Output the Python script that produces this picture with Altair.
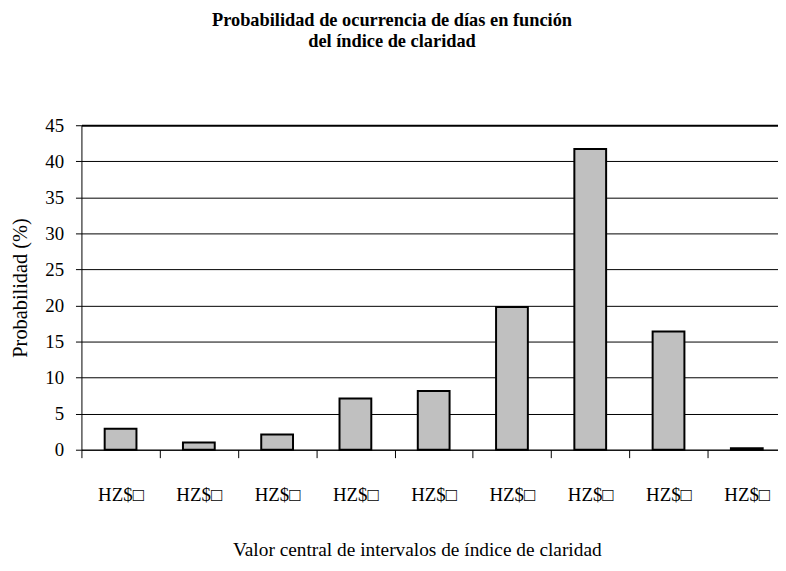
import altair as alt
import pandas as pd

categories = ["c1", "c2", "c3", "c4", "c5", "c6", "c7", "c8", "c9"]
tick_labels = ["HZ$\u25a1"] * 9
probabilidad = [2.9, 1.0, 2.1, 7.1, 8.15, 19.8, 41.7, 16.4, 0.2]
y_max = 45

df = pd.DataFrame({"cat": categories, "prob": probabilidad})

label_expr = "{" + ", ".join(f"'{c}': '{l}'" for c, l in zip(categories, tick_labels)) + "}[datum.value]"

FONT = "Liberation Serif"
PLOT_W = 710
HALF_STEP = PLOT_W / len(categories) / 2

chart = (
    alt.Chart(df)
    .mark_bar(color="#c0c0c0", stroke="#000000", strokeWidth=2)
    .encode(
        x=alt.X(
            "cat:N",
            sort=categories,
            scale=alt.Scale(paddingInner=0.594, paddingOuter=0.297),
            axis=alt.Axis(
                title="Valor central de intervalos de índice de claridad",
                labelExpr=label_expr,
                labelAngle=0,
                ticks=True,
                tickOffset=-HALF_STEP,
                labelOffset=HALF_STEP,
                tickSize=8,
                tickWidth=1,
                labelPadding=28,
                labelFontSize=19,
                titlePadding=37,
                titleFontSize=19.5,
                titleX=338,
                domainColor="#000000",
                tickColor="#000000",
            ),
        ),
        y=alt.Y(
            "prob:Q",
            scale=alt.Scale(domain=[0, y_max], nice=False),
            axis=alt.Axis(
                title="Probabilidad (%)",
                values=list(range(0, 46, 5)),
                tickSize=6,
                labelPadding=12,
                labelFontSize=19,
                titleFontSize=20.5,
                titlePadding=14,
                grid=True,
                gridColor="#000000",
                gridWidth={"condition": {"test": f"datum.value === {y_max}", "value": 2}, "value": 1},
                domainColor="#000000",
                tickColor="#000000",
            ),
        ),
    )
    .properties(
        width=PLOT_W,
        height=327,
        padding={"left": 74, "top": 116, "right": -8, "bottom": 112},
        autosize=alt.AutoSizeParams(type="none"),
        title=alt.TitleParams(
            text=["Probabilidad de ocurrencia de días en función", "del índice de claridad"],
            font=FONT,
            fontSize=18.5,
            fontWeight="bold",
            color="#000000",
            anchor="middle",
            dx=-42,
            offset=66,
            lineHeight=22,
        ),
    )
    .configure_axis(
        labelFont=FONT,
        titleFont=FONT,
        titleFontWeight="normal",
        labelColor="#000000",
        titleColor="#000000",
    )
    .configure_view(stroke=None)
)

chart.save("out.html", embed_options={"renderer": "svg", "actions": False})
